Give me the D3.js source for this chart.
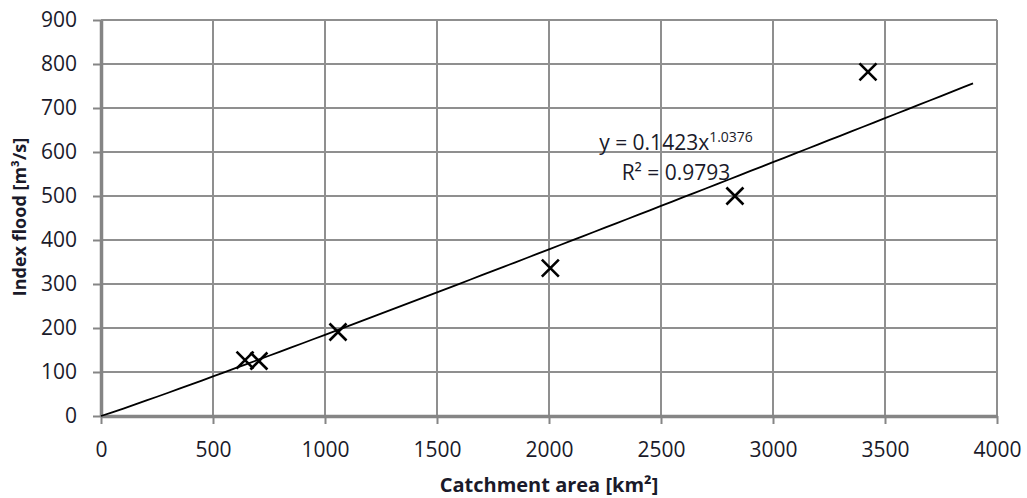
<!DOCTYPE html>
<html>
<head>
<meta charset="utf-8">
<script src="https://cdn.jsdelivr.net/npm/d3@7"></script>
<style>
  body { margin: 0; background: #fff; }
  text { font-family: "Open Sans", "Noto Sans", sans-serif; fill: #1a1a2a; }
</style>
</head>
<body>
<script>
var width = 1027,
    height = 498;

// catchment data
var areaKm2 = [643, 705, 1058, 2006, 2830, 3424];
var indexFlood = [127, 125, 191, 336, 500, 782];

var xTicks = [0, 500, 1000, 1500, 2000, 2500, 3000, 3500, 4000];
var yTicks = [0, 100, 200, 300, 400, 500, 600, 700, 800, 900];

// power trendline shown on the chart
var fitA = 0.1423, fitB = 1.0376, fitEnd = 3893;
var fitSteps = d3.range(0, fitEnd + 1, 50).concat([fitEnd]);

var margin = {left: 101, top: 20, right: 30, bottom: 82};

const svg = d3.select("body")
    .append("svg")
    .attr("width", width)
    .attr("height", height);

var x = d3.scaleLinear().domain([0, 4000]).range([margin.left, width - margin.right]);
var y = d3.scaleLinear().domain([0, 900]).range([height - margin.bottom, margin.top]);

var gridColor = "#8f8f8f";

// grid
svg.append("g")
    .selectAll("line")
    .data(xTicks.slice(1))
    .enter().append("line")
    .attr("x1", d => x(d)).attr("x2", d => x(d))
    .attr("y1", y(900)).attr("y2", y(0))
    .attr("stroke", gridColor).attr("stroke-width", 2);

svg.append("g")
    .selectAll("line")
    .data(yTicks.slice(1))
    .enter().append("line")
    .attr("x1", x(0)).attr("x2", x(4000))
    .attr("y1", d => y(d)).attr("y2", d => y(d))
    .attr("stroke", gridColor).attr("stroke-width", 2);

// axes
var xAxis = svg.append("g")
    .attr("transform", "translate(0," + y(0) + ")")
    .call(d3.axisBottom(x).tickValues(xTicks).tickFormat(d3.format("d"))
        .tickSize(8).tickPadding(18).tickSizeOuter(0));
var yAxis = svg.append("g")
    .attr("transform", "translate(" + x(0) + ",0)")
    .call(d3.axisLeft(y).tickValues(yTicks).tickFormat(d3.format("d"))
        .tickSize(8).tickPadding(16).tickSizeOuter(0));

[xAxis, yAxis].forEach(function (g) {
    g.select(".domain").attr("stroke", "#858585").attr("stroke-width", 3.5);
    g.selectAll(".tick line").attr("stroke", "#858585").attr("stroke-width", 2);
    g.selectAll(".tick text")
        .style("font-family", "'Open Sans', sans-serif")
        .style("font-size", "21px")
        .attr("fill", "#1a1a2a");
});

// trendline
var line = d3.line()
    .x(d => x(d))
    .y(d => y(fitA * Math.pow(d, fitB)));

svg.append("path")
    .attr("d", line(fitSteps))
    .attr("fill", "none")
    .attr("stroke", "#000")
    .attr("stroke-width", 1.8);

// markers
var s = 8.5;
var marks = svg.append("g")
    .selectAll("g")
    .data(areaKm2)
    .enter().append("g")
    .attr("transform", (d, i) => "translate(" + x(d) + "," + y(indexFlood[i]) + ")");

marks.append("path")
    .attr("d", "M" + (-s) + "," + (-s) + "L" + s + "," + s + "M" + (-s) + "," + s + "L" + s + "," + (-s))
    .attr("stroke", "#000")
    .attr("stroke-width", 2.6)
    .attr("fill", "none");

// equation
var eq = svg.append("text")
    .attr("x", 676).attr("y", 150)
    .attr("text-anchor", "middle")
    .style("font-size", "21px");
eq.append("tspan").text("y = 0.1423x");
eq.append("tspan").attr("dy", -8).style("font-size", "14px").text("1.0376");

svg.append("text")
    .attr("x", 676).attr("y", 180)
    .attr("text-anchor", "middle")
    .style("font-size", "21px")
    .text("R² = 0.9793");

// axis titles
svg.append("text")
    .attr("x", 549).attr("y", 492)
    .attr("text-anchor", "middle")
    .style("font-size", "20px")
    .style("font-weight", "bold")
    .text("Catchment area [km²]");

svg.append("text")
    .attr("transform", "translate(26,217) rotate(-90)")
    .attr("text-anchor", "middle")
    .style("font-size", "18px")
    .style("font-weight", "bold")
    .text("Index flood [m³/s]");
</script>
</body>
</html>
